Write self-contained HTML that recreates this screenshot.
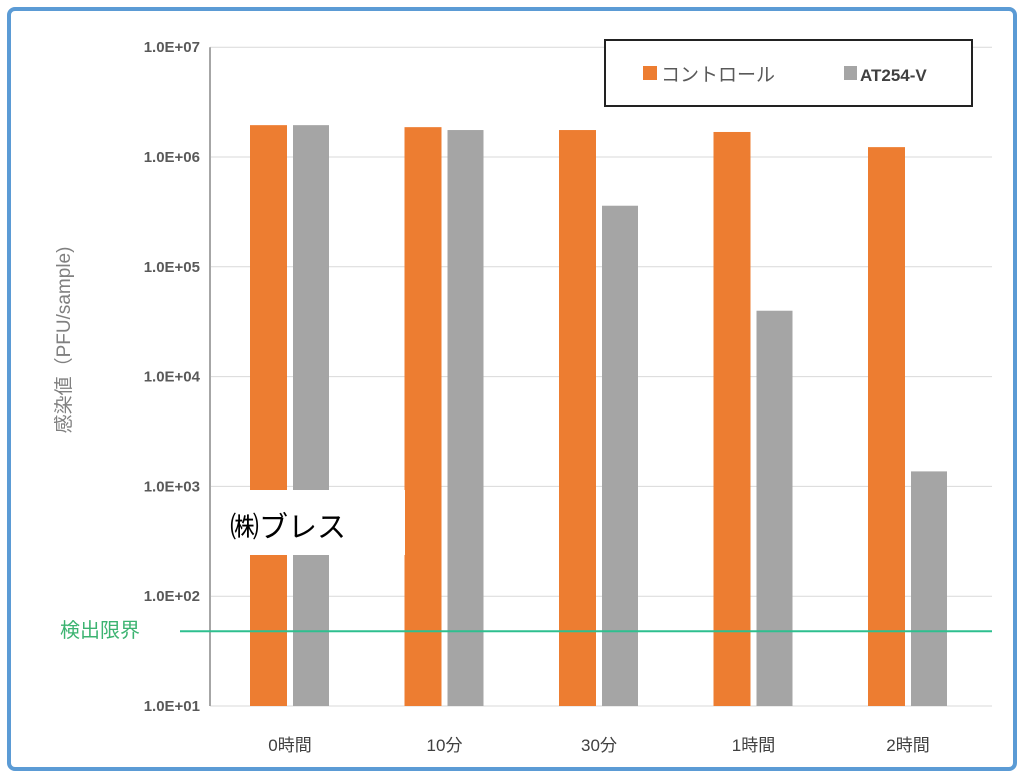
<!DOCTYPE html>
<html><head><meta charset="utf-8"><style>
body{margin:0;background:#fff;font-family:"Liberation Sans","Noto Sans CJK JP",sans-serif;}
#wrap{position:relative;width:1024px;height:777px;overflow:hidden;}
</style></head><body>
<div id="wrap">
<svg id="svg" width="1024" height="777" xmlns="http://www.w3.org/2000/svg">
<rect x="9" y="9" width="1006" height="760" rx="6" fill="#fff" stroke="#5b9bd5" stroke-width="4"/>
<g id="grid"></g><g id="bars"></g><g id="labels"></g>
</svg>
</div>
<script>
const categories=["0時間","10分","30分","1時間","2時間"];
const controlValues=[1.95e6,1.87e6,1.76e6,1.69e6,1.23e6];
const at254Values=[1.95e6,1.76e6,3.6e5,3.98e4,1.37e3];
const tickLabels=["1.0E+01","1.0E+02","1.0E+03","1.0E+04","1.0E+05","1.0E+06","1.0E+07"];
const tickValues=[1e1,1e2,1e3,1e4,1e5,1e6,1e7];
const detectionLimit=48;

const NS="http://www.w3.org/2000/svg";
const y0=706,decade=109.8,xL=210,xR=992,step=154.5,x0=290;
function yScale(v){return y0-(Math.log10(v)-1)*decade;}
function xCenter(i){return x0+i*step;}
function mk(tag,attrs,parent,text){const e=document.createElementNS(NS,tag);for(const k in attrs)e.setAttribute(k,attrs[k]);if(text!==undefined)e.textContent=text;document.getElementById(parent).appendChild(e);return e;}

tickValues.forEach((v,i)=>{
  const y=yScale(v);
  const g=mk('line',{x1:xL,x2:xR,y1:y,y2:y,stroke:'#d9d9d9','stroke-width':1},'grid');
  
  
  const t=mk('text',{x:200,y:y+5,'text-anchor':'end','font-size':15,fill:'#595959','font-weight':'bold'},'labels',tickLabels[i]);
  
  
});
const ax=mk('line',{x1:xL,x2:xL,y1:yScale(1e7),y2:y0,stroke:'#a6a6a6','stroke-width':2},'grid');



categories.forEach((c,i)=>{
  const cx=xCenter(i);
  const yc=yScale(controlValues[i]);
  const b1=mk('rect',{x:cx-40,y:yc,width:37,height:y0-yc,fill:'#ed7d31'},'bars');
  
  
  const ya=yScale(at254Values[i]);
  const b2=mk('rect',{x:cx+3,y:ya,width:36,height:y0-ya,fill:'#a5a5a5'},'bars');
  
  
  const t=mk('text',{x:cx,y:751,'text-anchor':'middle','font-size':17,fill:'#404040'},'labels',c);
  
  
});

const dl=yScale(detectionLimit);
const dll=mk('line',{x1:180,x2:xR,y1:dl,y2:dl,stroke:'#2ebf8f','stroke-width':2},'labels');


const dlt=mk('text',{x:60,y:dl+6,'font-size':20,fill:'#3cb371'},'labels','検出限界');



const yt=mk('text',{x:0,y:0,'font-size':19,fill:'#808080','text-anchor':'middle',transform:'translate(70,340) rotate(-90)'},'labels','感染値（PFU/sample)');



const wb=mk('rect',{x:212,y:490,width:193,height:65,fill:'#fff'},'labels');


const wt=mk('text',{x:230,y:537,'font-size':29,fill:'#000'},'labels','㈱ブレス');



const lb=mk('rect',{x:605,y:40,width:367,height:66,fill:'#fff',stroke:'#222','stroke-width':2},'labels');


const s1=mk('rect',{x:643,y:66,width:14,height:14,fill:'#ed7d31'},'labels');


const l1=mk('text',{x:661,y:81,'font-size':19,fill:'#595959'},'labels','コントロール');


const s2=mk('rect',{x:844,y:66,width:13,height:14,fill:'#a5a5a5'},'labels');


const l2=mk('text',{x:860,y:81,'font-size':17,'font-weight':'bold',fill:'#404040'},'labels','AT254-V');


</script>
</body></html>
